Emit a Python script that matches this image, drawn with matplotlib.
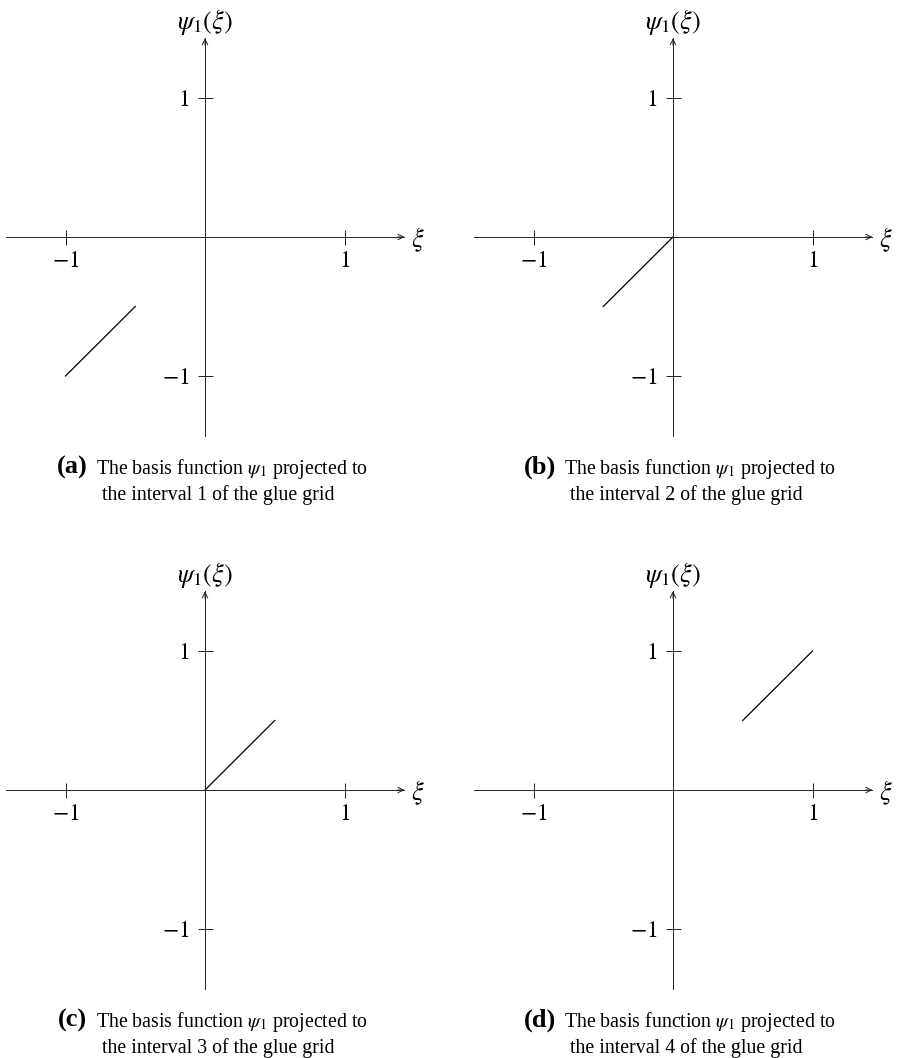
import numpy as np
import matplotlib.pyplot as plt

plt.rcParams['font.family'] = ['Liberation Serif', 'DejaVu Serif']
plt.rcParams['mathtext.fontset'] = 'stix'

W, H = 897, 1058

# psi_1 restricted to each of the four glue-grid intervals
segments_x = [[-1.0, -0.5], [-0.5, 0.0], [0.0, 0.5], [0.5, 1.0]]
segments_y = [[-1.0, -0.5], [-0.5, 0.0], [0.0, 0.5], [0.5, 1.0]]
tick_vals = [-1, 1]
tick_labels = [r'$-1$', r'$1$']
letters = ['(a)', '(b)', '(c)', '(d)']
interval_no = ['1', '2', '3', '4']

# origin of each panel in pixels, and pixels per unit
origins = [(205, 237), (673, 237), (205, 790), (673, 790)]
ux, uy = 139.5, 139.0
lim = 1.46
ext = 1.43

fig = plt.figure(figsize=(W / 100, H / 100), dpi=100)


def fx(px):
    return px / W


def fy(py):
    return 1 - py / H


for k, (ox, oy) in enumerate(origins):
    left = ox - lim * ux
    top = oy - lim * uy
    ax = fig.add_axes([fx(left), fy(top + 2 * lim * uy), 2 * lim * ux / W, 2 * lim * uy / H])
    ax.set_xlim(-lim, lim)
    ax.set_ylim(-lim, lim)
    ax.patch.set_visible(False)

    for s in ['top', 'right']:
        ax.spines[s].set_visible(False)
    for s in ['left', 'bottom']:
        ax.spines[s].set_position('zero')
        ax.spines[s].set_linewidth(0.7)
        ax.spines[s].set_color('#222222')
        ax.spines[s].set_bounds(-ext, ext)

    ax.set_xticks(tick_vals)
    ax.set_xticklabels(tick_labels)
    ax.set_yticks(tick_vals)
    ax.set_yticklabels(tick_labels)
    ax.tick_params(direction='inout', length=10.8, width=0.7, color='#222222',
                   labelsize=17)
    ax.tick_params(axis='x', pad=5.0)
    ax.tick_params(axis='y', pad=6.0)

    # arrow heads at the positive ends of both axes
    ax.annotate('', xy=(ext, 0), xytext=(ext - 0.05, 0),
                arrowprops=dict(arrowstyle='->', lw=0.7, color='#222222',
                                shrinkA=0, shrinkB=0, mutation_scale=10))
    ax.annotate('', xy=(0, ext), xytext=(0, ext - 0.05),
                arrowprops=dict(arrowstyle='->', lw=0.7, color='#222222',
                                shrinkA=0, shrinkB=0, mutation_scale=10))

    ax.text(1.527, -0.02, r'$\xi$', fontsize=19, ha='center', va='center')
    ax.text(0, 1.547, r'$\psi_1(\xi)$', fontsize=19, ha='center', va='center')

    ax.plot(segments_x[k], segments_y[k], color='black', lw=0.9)

    # sub-caption under the panel
    base = oy + 237
    fig.text(fx(ox - 133), fy(base), letters[k], fontsize=19, fontweight='bold',
             ha='center', va='baseline')
    fig.text(fx(ox + 27), fy(base), r'The basis function $\psi_1$ projected to',
             fontsize=14.3, ha='center', va='baseline')
    fig.text(fx(ox + 13), fy(base + 26),
             'the interval ' + interval_no[k] + ' of the glue grid',
             fontsize=14.3, ha='center', va='baseline')

fig.savefig('out.png', dpi=100)
